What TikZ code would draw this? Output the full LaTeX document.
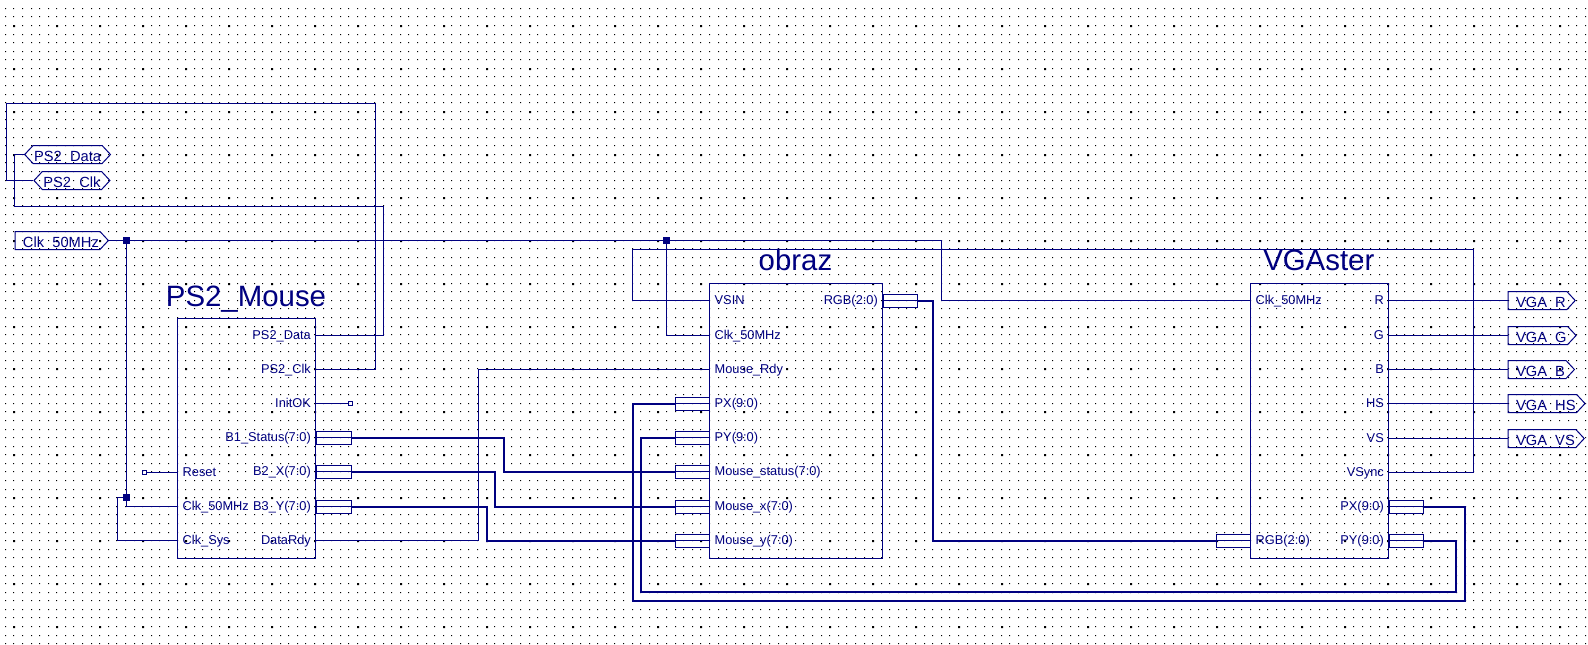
\documentclass[tikz,border=0pt]{standalone}
\usepackage{fontspec}
\setmainfont{Liberation Sans}
\usetikzlibrary{shapes.symbols}
\definecolor{sch}{HTML}{000080}

\begin{document}
\begin{tikzpicture}[x=1pt,y=-1pt,
    every node/.style={text=sch,font=\fontsize{12.8}{14}\selectfont},
    wire/.style={draw=sch,line width=1pt},
    bus/.style={draw=sch,line width=2pt},
    griddot/.style={fill=black},
    block/.style={draw=sch,line width=1pt,minimum width=138pt,inner sep=0pt},
    title/.style={anchor=base,inner sep=0pt,font=\fontsize{29.4}{32}\selectfont},
    lport/.style={anchor=west,inner xsep=5pt,inner ysep=0pt,text height=7.6pt,text depth=0pt},
    rport/.style={anchor=east,inner xsep=4.5pt,inner ysep=0pt,text height=7.6pt,text depth=0pt},
    stubbox/.style={draw=sch,line width=1pt,minimum width=34pt,minimum height=13pt,inner sep=0pt,
        path picture={\draw[sch,line width=1pt] ([yshift=.5pt]path picture bounding box.west) -- ([yshift=.5pt]path picture bounding box.east);}},
    junct/.style={fill=sch,minimum size=7pt,inner sep=0pt},
    nc/.style={draw=sch,line width=1pt,minimum size=4pt,inner sep=0pt},
    sig/.style={signal,draw=sch,line width=1pt,signal pointer angle=94,anchor=west,
        inner xsep=1pt,inner ysep=0pt,text height=15.5pt,text depth=2.5pt,
        font=\fontsize{14.7}{16}\selectfont},
    sigboth/.style={sig,signal to=west and east},
    sigout/.style={sig,signal to=east,signal from=nowhere,execute at begin node={\hspace{7pt}}}]
    \useasboundingbox (0,0) rectangle (1588,645);

    % grid of the sheet
    \foreach \r in {0,...,74}{
        \pgfmathsetmacro{\gy}{floor(8.3+\r*8.587)}
        \fill[griddot] \foreach \c in {0,...,184}{ ({floor(5.3+\c*8.587)},\gy) rectangle +(1,1) };
    }
    \foreach \r in {2,7,...,72}{
        \pgfmathsetmacro{\gy}{floor(8.3+\r*8.587)}
        \fill[griddot] \foreach \c in {1,6,...,181}{ ({floor(5.3+\c*8.587)},\gy) rectangle +(2,2) };
    }

    % sheet ports
    \node[sigboth] (hData) at (24,154.5) {PS2\_Data};
    \node[sigboth] (hClk) at (33.3,180.5) {PS2\_Clk};
    \node[sigout] (hMHz) at (14.5,240.5) {Clk\_50MHz};
    \node[sigout] (hR) at (1507.5,300.5) {VGA\_R};
    \node[sigout] (hG) at (1507.5,335.5) {VGA\_G};
    \node[sigout] (hB) at (1507.5,369.5) {VGA\_B};
    \node[sigout] (hHS) at (1507.5,403.5) {VGA\_HS};
    \node[sigout] (hVS) at (1507.5,438.5) {VGA\_VS};

    % PS2_Mouse
    \node[block,minimum height=240pt] (mouse) at (246.5,438.5) {};
    \node[title] (mouseT) at (246,306) {PS2\_Mouse};
    \node[rport] (mData) at (315.5,335.5) {PS2\_Data};
    \node[rport] (mClk) at (315.5,369.5) {PS2\_Clk};
    \node[rport] (mInit) at (315.5,403.5) {InitOK};
    \node[rport] (mB1) at (315.5,438) {B1\_Status(7:0)};
    \node[rport] (mB2) at (315.5,472) {B2\_X(7:0)};
    \node[rport] (mB3) at (315.5,507) {B3\_Y(7:0)};
    \node[rport] (mRdy) at (315.5,540.5) {DataRdy};
    \node[lport] (mReset) at (177.5,472.5) {Reset};
    \node[lport] (mMHz) at (177.5,506.5) {Clk\_50MHz};
    \node[lport] (mSys) at (177.5,540.5) {Clk\_Sys};
    \node[stubbox,anchor=west,minimum width=35pt] (sB1) at (mB1.east) {};
    \node[stubbox,anchor=west,minimum width=35pt] (sB2) at (mB2.east) {};
    \node[stubbox,anchor=west,minimum width=35pt] (sB3) at (mB3.east) {};
    \node[nc] (ncInit) at (350.5,403.5) {};
    \node[nc] (ncReset) at (144.5,472.5) {};

    % obraz
    \node[block,minimum width=173pt,minimum height=275pt] (obraz) at (796,421) {};
    \node[title] (obrazT) at (795.5,270.7) {obraz};
    \node[lport] (oVsin) at (709.5,300.5) {VSIN};
    \node[lport] (oMHz) at (709.5,335.5) {Clk\_50MHz};
    \node[lport] (oRdy) at (709.5,369.5) {Mouse\_Rdy};
    \node[lport] (oPX) at (709.5,404) {PX(9:0)};
    \node[lport] (oPY) at (709.5,438) {PY(9:0)};
    \node[lport] (oStat) at (709.5,472) {Mouse\_status(7:0)};
    \node[lport] (oX) at (709.5,507) {Mouse\_x(7:0)};
    \node[lport] (oY) at (709.5,541) {Mouse\_y(7:0)};
    \node[rport] (oRGB) at (882.5,301) {RGB(2:0)};
    \node[stubbox,anchor=east] (sPX) at (oPX.west) {};
    \node[stubbox,anchor=east] (sPY) at (oPY.west) {};
    \node[stubbox,anchor=east] (sStat) at (oStat.west) {};
    \node[stubbox,anchor=east] (sX) at (oX.west) {};
    \node[stubbox,anchor=east] (sY) at (oY.west) {};
    \node[stubbox,anchor=west] (sRGB) at (oRGB.east) {};

    % VGAster
    \node[block,minimum height=275pt] (vga) at (1319.5,421) {};
    \node[title] (vgaT) at (1318.8,270.7) {VGAster};
    \node[lport] (vMHz) at (1250.5,300.5) {Clk\_50MHz};
    \node[lport] (vRGB) at (1250.5,541) {RGB(2:0)};
    \node[rport] (vR) at (1388.5,300.5) {R};
    \node[rport] (vG) at (1388.5,335.5) {G};
    \node[rport] (vB) at (1388.5,369.5) {B};
    \node[rport] (vHS) at (1388.5,403.5) {HS};
    \node[rport] (vVS) at (1388.5,438.5) {VS};
    \node[rport] (vSync) at (1388.5,472.5) {VSync};
    \node[rport] (vPX) at (1388.5,507) {PX(9:0)};
    \node[rport] (vPY) at (1388.5,541) {PY(9:0)};
    \node[stubbox,anchor=east] (sRGBin) at (vRGB.west) {};
    \node[stubbox,anchor=west] (sVPX) at (vPX.east) {};
    \node[stubbox,anchor=west] (sVPY) at (vPY.east) {};

    % junctions
    \node[junct] (jTop) at (126.5,240.5) {};
    \node[junct] (jSys) at (126.5,497.5) {};
    \node[junct] (jOb) at (666.5,240.5) {};

    % single wires
    \draw[wire] (mData.east) -| (383.5,206.5) -| (14.5,154.5) -- (hData.west);
    \draw[wire] (mClk.east) -| (375.5,103.5) -| (6.5,180.5) -- (hClk.west);
    \draw[wire] (hMHz.east) -- (jTop) -- (jOb) -| (941.5,300.5) -- (vMHz.west);
    \draw[wire] (jTop) -- (jSys) |- (mMHz.west);
    \draw[wire] (jSys) -- (117.5,497.5) |- (mSys.west);
    \draw[wire] (jOb) |- (oMHz.west);
    \draw[wire] (vSync.east) -| (1473.5,249.5) -| (632.5,300.5) -- (oVsin.west);
    \draw[wire] (mRdy.east) -| (478.5,369.5) -- (oRdy.west);
    \draw[wire] (mInit.east) -- (ncInit);
    \draw[wire] (ncReset) -- (mReset.west);
    \draw[wire] (vR.east) -- (hR.west);
    \draw[wire] (vG.east) -- (hG.west);
    \draw[wire] (vB.east) -- (hB.west);
    \draw[wire] (vHS.east) -- (hHS.west);
    \draw[wire] (vVS.east) -- (hVS.west);

    % buses
    \draw[bus] (sB1.east) -| (504,472) -- (sStat.west);
    \draw[bus] (sB2.east) -| (495,507) -- (sX.west);
    \draw[bus] (sB3.east) -| (487,541) -- (sY.west);
    \draw[bus] (sRGB.east) -| (933,541) -- (sRGBin.west);
    \draw[bus] (sVPX.east) -| (1465,601) -| (633,404) -- (sPX.west);
    \draw[bus] (sVPY.east) -| (1456,592) -| (641,438) -- (sPY.west);
\end{tikzpicture}
\end{document}
